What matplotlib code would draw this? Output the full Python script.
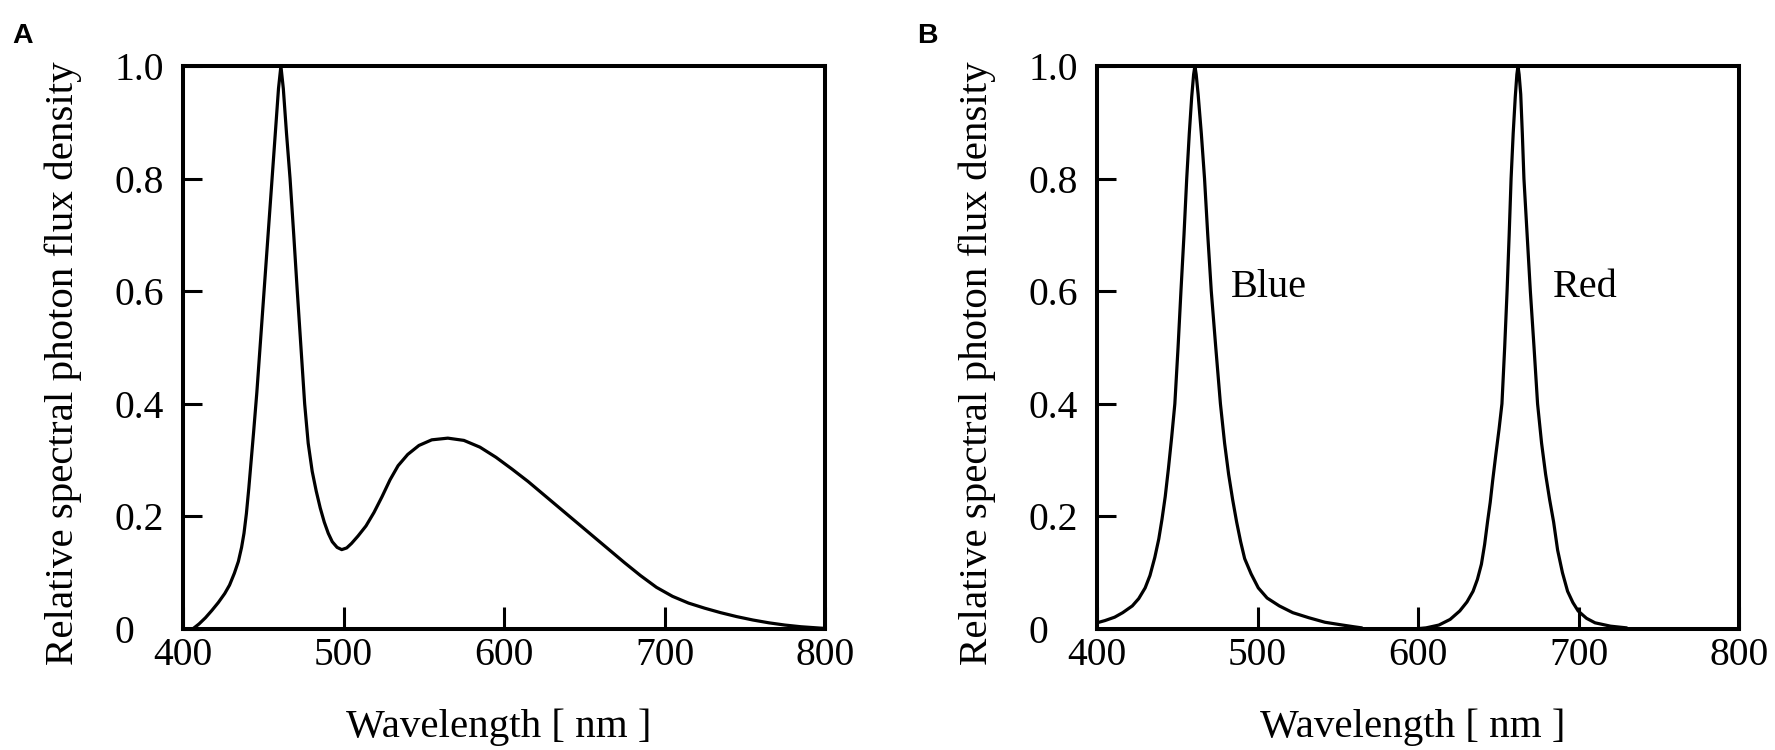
import matplotlib
matplotlib.use("Agg")
import matplotlib.pyplot as plt

# ---- data ----
wl_white = [406, 410, 414, 418, 422, 426, 429, 432, 434.5, 436.5, 438, 439.5, 441, 442.5, 444, 446,
            448, 450, 452, 454, 456, 458, 459.5, 461, 462.5, 464.5, 466.7, 469, 471.2, 473.5, 475.8,
            478, 480.5, 483, 485.5, 488, 490.5, 493, 496, 498.9, 502, 505, 509, 514, 519, 524, 529,
            534, 540, 547, 555, 565, 575, 585, 595, 605, 615, 625, 635, 645, 655, 665, 675, 685, 695,
            705, 715, 725, 735, 745, 755, 765, 775, 785, 795, 800]
flux_white = [0.0, 0.009, 0.02, 0.033, 0.047, 0.063, 0.078, 0.099, 0.12, 0.145, 0.17, 0.205, 0.25, 0.30,
              0.35, 0.42, 0.50, 0.58, 0.66, 0.74, 0.82, 0.90, 0.96, 1.0, 0.96, 0.88, 0.80, 0.70, 0.60,
              0.50, 0.40, 0.33, 0.28, 0.245, 0.215, 0.19, 0.17, 0.155, 0.145, 0.141, 0.144, 0.152,
              0.165, 0.183, 0.207, 0.235, 0.265, 0.29, 0.31, 0.326, 0.336, 0.339, 0.335, 0.323, 0.305,
              0.284, 0.262, 0.238, 0.214, 0.19, 0.166, 0.142, 0.118, 0.095, 0.074, 0.058, 0.046,
              0.037, 0.029, 0.022, 0.016, 0.011, 0.007, 0.004, 0.002, 0.001]

wl_blue = [400, 405, 411, 416, 422, 426, 430, 433, 436, 438.5, 440.5, 442.5, 444.5, 446.5, 448.5, 450.5,
           452.3, 454.2, 455.9, 457.5, 459, 460.2, 461, 461.8, 463, 465, 467, 469, 471.2, 474, 476.9,
           479.5, 482, 484.5, 487, 489.5, 492, 496, 500.5, 506, 513.6, 522, 532, 542, 553, 560, 565]
flux_blue = [0.011, 0.015, 0.021, 0.029, 0.041, 0.054, 0.073, 0.095, 0.127, 0.16, 0.195, 0.235, 0.285,
             0.34, 0.40, 0.50, 0.60, 0.70, 0.80, 0.88, 0.945, 0.985, 1.0, 0.985, 0.95, 0.88, 0.80, 0.70,
             0.60, 0.50, 0.40, 0.33, 0.275, 0.23, 0.19, 0.155, 0.125, 0.098, 0.073, 0.055, 0.041,
             0.029, 0.020, 0.012, 0.007, 0.004, 0.002]

wl_red = [597.5, 605, 613, 620, 626, 630.5, 634.3, 637, 639.5, 641.5, 643.4, 645, 646.5, 648.5, 650.5,
          652.3, 654, 655.5, 656.8, 658, 659.3, 660.6, 661.6, 662.3, 663, 664, 665, 666, 668, 670,
          672.3, 674.5, 677, 679.5, 682, 684.5, 687, 690, 693.2, 696.5, 699.8, 705, 710.3, 720, 730]
flux_red = [0.0, 0.002, 0.007, 0.017, 0.032, 0.048, 0.067, 0.088, 0.115, 0.15, 0.192, 0.225, 0.263,
            0.31, 0.355, 0.40, 0.50, 0.60, 0.70, 0.80, 0.88, 0.945, 0.985, 1.0, 0.985, 0.95, 0.88,
            0.80, 0.70, 0.60, 0.50, 0.40, 0.33, 0.275, 0.23, 0.19, 0.14, 0.10, 0.067, 0.047, 0.032,
            0.019, 0.011, 0.005, 0.002]

x_ticks = [400, 500, 600, 700, 800]
y_ticks = [0, 0.2, 0.4, 0.6, 0.8, 1.0]
y_ticklabels = ["0", "0.2", "0.4", "0.6", "0.8", "1.0"]
xlabel = "Wavelength [ nm ]"
ylabel = "Relative spectral photon flux density"
panel_labels = ["A", "B"]
peak_names = ["Blue", "Red"]
peak_name_pos = [(483.5, 0.59), (684, 0.59)]

# ---- figure ----
W, H = 1775, 750
fig = plt.figure(figsize=(W / 100, H / 100), dpi=100)
serif = ["Liberation Serif", "DejaVu Serif"]

ax_w = (825 - 183) / W
ax_h = (629 - 66) / H
bottom = 1 - 629 / H
axA = fig.add_axes([183 / W, bottom, ax_w, ax_h])
axB = fig.add_axes([1097 / W, bottom, ax_w, ax_h])

lw_curve = 2.3
kw = dict(color="black", lw=lw_curve, solid_joinstyle="round", solid_capstyle="round")
axA.plot(wl_white, flux_white, **kw)
axB.plot(wl_blue, flux_blue, **kw)
axB.plot(wl_red, flux_red, **kw)

for ax in (axA, axB):
    ax.set_xlim(400, 800)
    ax.set_ylim(0, 1.0)
    for s in ax.spines.values():
        s.set_linewidth(2.9)
        s.set_color("black")
    ax.set_xticks(x_ticks)
    ax.set_xticklabels([str(v) for v in x_ticks], fontsize=28.5, family=serif)
    ax.set_yticks(y_ticks)
    ax.set_yticklabels(y_ticklabels, fontsize=28.5, family=serif, ha="left")
    ax.tick_params(axis="x", direction="in", length=16, width=2.2, pad=6, top=False)
    ax.tick_params(axis="y", direction="in", length=13.5, width=2.2, pad=49, right=False)
    ax.set_xlabel(xlabel, fontsize=29.5, family=serif, va="baseline")
    ax.xaxis.set_label_coords(0.491, -0.192)
    ax.set_ylabel(ylabel, fontsize=29.5, family=serif, va="baseline")
    ax.yaxis.set_label_coords(-0.172, 0.4725)

for (x, y), name in zip(peak_name_pos, peak_names):
    axB.text(x, y, name, fontsize=29, family=serif, ha="left", va="baseline")

fig.text(12 / W, 1 - 43 / H, panel_labels[0], fontsize=20.5, fontweight="bold",
         family=["Liberation Sans", "DejaVu Sans"], va="baseline", ha="left")
fig.text(917 / W, 1 - 43 / H, panel_labels[1], fontsize=20.5, fontweight="bold",
         family=["Liberation Sans", "DejaVu Sans"], va="baseline", ha="left")

fig.savefig("out.png", dpi=100, facecolor="white")
